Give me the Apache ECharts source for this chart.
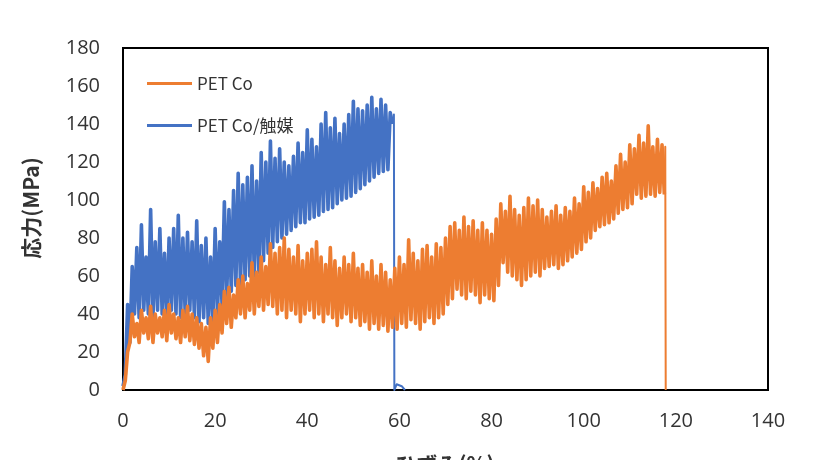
<!DOCTYPE html>
<html>
<head>
<meta charset="utf-8">
<script src="https://cdn.jsdelivr.net/npm/echarts@6/dist/echarts.min.js"></script>
<style>
  html, body { margin: 0; padding: 0; background: #fff; overflow: hidden; }
  #chart { width: 821px; height: 460px; }
</style>
</head>
<body>
<div id="chart"></div>
<script>
// Stress–strain curves of two PET Co samples (cyclic loading, peaks and troughs per 1% strain)
const xTicks = { min: 0, max: 140, interval: 20 };
const yTicks = { min: 0, max: 180, interval: 20 };
const xTitle = 'ひずみ(%)';
const yTitle = '応力(MPa)';

// PET Co: peak stress at strain 0,1,2,... and trough stress half a step later
const petCoPeaks = [
  0, 20, 40, 35, 42, 38, 44, 40, 38, 42, 45, 40, 38, 42, 44, 40, 38, 35, 33, 38,
  42, 45, 52, 54, 50, 58, 60, 56, 67, 62, 70, 65, 77, 72, 75, 80, 74, 70, 76, 68,
  72, 74, 78, 70, 66, 75, 68, 64, 70, 66, 72, 64, 66, 62, 68, 60, 66, 62, 58, 64,
  70, 66, 79, 72, 68, 74, 76, 70, 77, 75, 80, 86, 88, 84, 91, 86, 89, 84, 88, 84,
  82, 90, 98, 94, 102, 95, 92, 96, 101, 97, 100, 95, 91, 94, 97, 92, 96, 94, 101, 98,
  107, 104, 109, 106, 112, 114, 110, 118, 124, 120, 129, 127, 134, 130, 139, 128, 132, 129
];
const petCoTroughs = [
  5, 25, 28, 25, 30, 27, 25, 30, 28, 26, 30, 27, 25, 28, 26, 24, 22, 18, 15, 22,
  25, 30, 35, 33, 38, 40, 38, 42, 40, 44, 42, 45, 44, 40, 42, 38, 42, 40, 36, 40,
  42, 38, 40, 36, 40, 38, 34, 38, 40, 36, 38, 34, 36, 32, 35, 32, 34, 31, 33, 32,
  35, 33, 37, 35, 32, 36, 38, 35, 38, 40, 45, 48, 53, 50, 48, 52, 50, 46, 50, 48,
  47, 55, 67, 62, 60, 58, 55, 58, 60, 62, 60, 64, 65, 66, 64, 66, 68, 70, 72, 74,
  78, 80, 84, 86, 87, 88, 90, 93, 95, 96, 98, 103, 101, 102, 103, 102, 104, 103
];
// fracture: stress falls to zero
const petCoBreak = [[117.5, 103], [117.7, 128], [117.8, 0]];

// PET Co/触媒
const petCoCatPeaks = [
  2, 45, 65, 75, 87, 70, 95, 78, 85, 72, 80, 85, 92, 80, 83, 78, 89, 76, 80, 70,
  85, 78, 99, 95, 105, 114, 108, 112, 118, 110, 125, 120, 131, 122, 127, 120, 118, 123, 130, 125,
  137, 132, 128, 140, 146, 138, 143, 135, 140, 145, 152, 148, 147, 150, 154, 148, 153, 150, 146
];
const petCoCatTroughs = [
  8, 25, 40, 38, 42, 40, 38, 42, 40, 38, 42, 40, 38, 40, 42, 38, 36, 38, 35, 36,
  40, 45, 48, 52, 55, 55, 58, 60, 60, 62, 68, 72, 75, 78, 80, 82, 84, 86, 88, 88,
  90, 91, 92, 94, 95, 96, 98, 100, 101, 102, 104, 106, 108, 110, 112, 114, 115, 116, 140
];
const petCoCatBreak = [[58.5, 140], [58.8, 145], [58.9, 0], [59.4, 3], [60.5, 2], [61.2, 0]];

const strainStep = 1;

function zigzag(peaks, troughs) {
  const pts = [];
  for (let i = 0; i < peaks.length; i++) {
    pts.push([i * strainStep, peaks[i]]);
    pts.push([i * strainStep + strainStep / 2, troughs[i]]);
  }
  return pts;
}

const FONT = '"Open Sans", "Noto Sans", sans-serif';
const CJK = '"Noto Sans CJK JP", "Noto Sans", sans-serif';
const ORANGE = '#ED7D31';
const BLUE = '#4472C4';

function curve(name, data, color, width, z) {
  return {
    name, type: 'line', data, showSymbol: false, z,
    lineStyle: { color, width, join: 'round' },
    itemStyle: { color }
  };
}

const chart = echarts.init(document.getElementById('chart'), null, { renderer: 'canvas' });
chart.setOption({
  animation: false,
  backgroundColor: '#ffffff',
  grid: {
    left: 123, right: 53, top: 48, bottom: 70,
    containLabel: false,
    outerBoundsMode: 'none',
    show: true, borderColor: '#000', borderWidth: 2, backgroundColor: 'transparent'
  },
  legend: {
    data: ['PET Co', 'PET Co/触媒'],
    orient: 'vertical',
    left: 147, top: 75,
    padding: 0,
    itemGap: 25,
    itemWidth: 45, itemHeight: 3,
    icon: 'rect',
    textStyle: { fontFamily: CJK, fontSize: 17, color: '#333' }
  },
  graphic: [
    {
      type: 'text',
      x: 31, y: 208,
      rotation: Math.PI / 2,
      style: {
        text: yTitle, fontFamily: CJK, fontSize: 21, fontWeight: 'bold',
        fill: '#333', align: 'center', verticalAlign: 'middle'
      }
    },
    {
      type: 'text',
      x: 445, y: 464,
      style: {
        text: xTitle, fontFamily: CJK, fontSize: 21, fontWeight: 'bold',
        fill: '#333', align: 'center', verticalAlign: 'middle'
      }
    }
  ],
  xAxis: {
    type: 'value',
    min: xTicks.min, max: xTicks.max, interval: xTicks.interval,
    axisLine: { show: true, lineStyle: { color: '#000', width: 2 } },
    axisTick: { show: false },
    splitLine: { show: false },
    axisLabel: { margin: 21, fontFamily: FONT, fontSize: 20, color: '#333' }
  },
  yAxis: {
    type: 'value',
    min: yTicks.min, max: yTicks.max, interval: yTicks.interval,
    axisLine: { show: true, lineStyle: { color: '#000', width: 2 } },
    axisTick: { show: false },
    splitLine: { show: false },
    axisLabel: { margin: 23, fontFamily: FONT, fontSize: 20, color: '#333' }
  },
  series: [
    curve('PET Co/触媒', zigzag(petCoCatPeaks, petCoCatTroughs), BLUE, 3.6, 2),
    curve('PET Co/触媒', petCoCatBreak, BLUE, 2, 2),
    curve('PET Co', zigzag(petCoPeaks, petCoTroughs), ORANGE, 3.6, 3),
    curve('PET Co', petCoBreak, ORANGE, 2, 3)
  ]
});
</script>
</body>
</html>
